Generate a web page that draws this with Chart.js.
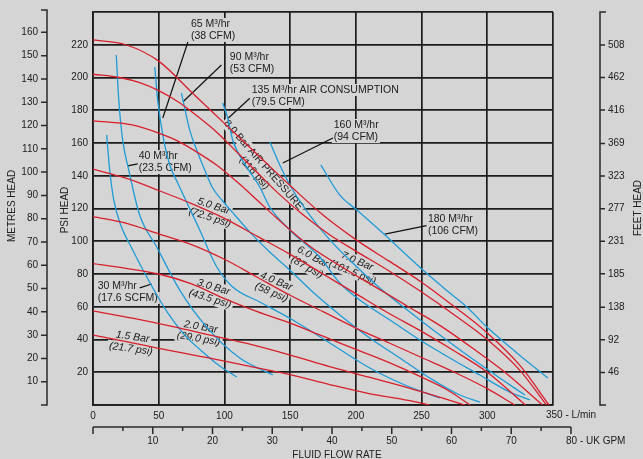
<!DOCTYPE html>
<html>
<head>
<meta charset="utf-8">
<script src="https://cdn.jsdelivr.net/npm/chart.js@4.4.1/dist/chart.umd.min.js"></script>
<style>
    html, body { margin: 0; padding: 0; background: #d5d5d5; }
    #wrap { width: 643px; height: 459px; }
</style>
</head>
<body>
<div id="wrap"><canvas id="pumpChart" width="643" height="459"></canvas></div>
<script>
// axis ticks
const flowTicks = [0, 50, 100, 150, 200, 250, 300, 350];
const psiTicks = [0, 20, 40, 60, 80, 100, 120, 140, 160, 180, 200, 220, 240];
const metreTicks = [10, 20, 30, 40, 50, 60, 70, 80, 90, 100, 110, 120, 130, 140, 150, 160];
const feetTicks = [46, 92, 138, 185, 231, 277, 323, 369, 416, 462, 508];
const gpmTicks = [0, 5, 10, 15, 20, 25, 30, 35, 40, 45, 50, 55, 60, 65, 70, 75, 80];

// air pressure curves (L/min, psi)
const bar15Flow = [0, 30, 60, 90, 120, 150, 180, 210, 240, 256];
const bar15Psi = [42.7, 38, 33, 28.5, 23.4, 18.5, 12.5, 7, 2.8, 0];
const bar20Flow = [0, 30, 60, 90, 120, 150, 180, 210, 240, 265, 283];
const bar20Psi = [57.5, 53, 48, 42.5, 37, 30.5, 23.4, 17, 10.5, 4.5, 0];
const bar30Flow = [0, 25, 50, 75, 100, 125, 150, 175, 200, 225, 250, 270, 287];
const bar30Psi = [86.3, 83.5, 80, 74, 65, 57, 50, 42, 34, 26, 17, 9, 0];
const bar40Flow = [0, 25, 50, 75, 100, 125, 150, 175, 200, 225, 250, 275, 300, 321];
const bar40Psi = [115, 111, 104.5, 98, 89, 78, 67, 57, 47, 38, 29, 20, 10, 0];
const bar50Flow = [0, 25, 50, 75, 100, 125, 150, 175, 200, 225, 250, 275, 300, 329];
const bar50Psi = [144, 138.5, 131, 123, 114, 103, 92, 80, 68, 56, 45, 33, 20, 0];
const bar60Flow = [0, 30, 50, 65, 80, 95, 110, 125, 140, 165, 190, 215, 240, 265, 290, 315, 342];
const bar60Psi = [173.5, 171, 166, 161, 154, 146, 136, 125, 114, 97, 84, 72, 60, 48, 34, 19, 0];
const bar70Flow = [0, 20, 35, 50, 65, 80, 95, 110, 125, 140, 160, 180, 200, 225, 250, 275, 300, 325, 345];
const bar70Psi = [202, 200, 197, 192, 185, 176, 166, 154, 142, 130, 116, 104, 94, 82, 69, 55, 40, 21, 0];
const bar80Flow = [0, 25, 50, 75, 100, 125, 150, 175, 200, 225, 250, 275, 300, 325, 347];
const bar80Psi = [223, 220, 210, 191, 172, 153, 134, 116, 101, 88, 75, 60, 44, 24, 0];

// air consumption curves (L/min, psi)
const air30Flow = [10.4, 12.7, 15.8, 21.1, 30.2, 40.9, 56.9, 69.8, 83.5, 96.5, 109.4];
const air30Psi = [164.9, 143.5, 125.2, 109.9, 94.7, 78.2, 56.2, 42.7, 32.4, 23.8, 17.1];
const air40Flow = [17.7, 19.6, 22.6, 27.2, 35.5, 48.5, 66, 86.5, 111.7, 136.8];
const air40Psi = [213.7, 186.3, 161.8, 143.5, 116, 96.5, 70.2, 47.6, 28.7, 18.3];
const air65Flow = [47, 49.2, 53.1, 58.4, 64.5, 81.2, 94.2, 106.3, 126.9, 152, 180.2, 210.6, 237.3, 263.9];
const air65Psi = [206.4, 186.3, 164.9, 146.6, 135.6, 106.9, 84.3, 72.1, 62.9, 51.9, 37.9, 22.6, 12.2, 4.3];
const air90Flow = [67.3, 73.6, 78.9, 85, 91.1, 98, 107.9, 119.3, 134.5, 149.7, 167.2, 187.8, 210.6, 233.5, 256.3, 279.1, 294.4];
const air90Psi = [190.5, 167.9, 155.7, 143.5, 132.5, 125.2, 116, 105.6, 93.4, 82.4, 69, 55, 40.9, 28.7, 16.5, 6.1, 1.8];
const air135Flow = [98.7, 102.5, 106.3, 117, 126.9, 134.5, 149.7, 172.5, 187.8, 203, 225.9, 248.7, 271.5, 294.3, 317.2, 332.4];
const air135Psi = [184.4, 175.3, 161.8, 145.3, 133.1, 120.9, 106.9, 90.4, 74.5, 64.1, 51.9, 39.7, 28.7, 18.3, 7.9, 3.1];
const air160Flow = [134.5, 142.1, 152, 164.9, 180.2, 199.2, 218.2, 241.1, 263.9, 286.7, 309.5, 328.6];
const air160Psi = [160.8, 146.6, 131.3, 116, 100.8, 85.5, 71.5, 56.8, 42.7, 29.3, 16.5, 6.1];
const air180Flow = [173.3, 187.8, 200.7, 220.5, 251, 271.5, 284.4, 299.7, 322.5, 346.1];
const air180Psi = [146.6, 128.2, 119.1, 105, 82.4, 68.4, 59.8, 47.6, 31.8, 16.5];

// unit conversions for the secondary axes
const PSI_PER_METRE = 1.4223;
const FEET_PER_PSI = 2.31;
const LITRES_PER_UK_GAL = 4.546;

const BG = '#d5d5d5';
const INK = '#202020';
const GRID = '#1c1c1c';
const RED = '#d81f2b';
const BLUE = '#1f9bd6';
const FONT = '"Liberation Sans", Arial, sans-serif';

// curve labels: [lines, flow, psi, angle, italic]
const barLabels = [
    [['1.5 Bar', '(21.7 psi)'], 29.5, 37.9, 8, true],
    [['2.0 Bar', '(29.0 psi)'], 81.2, 44, 10, true],
    [['3.0 Bar', '(43.5 psi)'], 90.4, 68.4, 17, true],
    [['4.0 Bar', '(58 psi)'], 137.6, 72.1, 23, true],
    [['5.0 Bar', '(72.5 psi)'], 90.4, 117.9, 18, true],
    [['6.0 Bar', '(87 psi)'], 165, 87.3, 29, true],
    [['7.0 Bar', '(101.5 psi)'], 199.2, 84.3, 23, true],
    [['8.0 Bar AIR PRESSURE', '(116 psi)'], 126.2, 144.1, 49, false],
];
// air labels: [lines, flow, psi of first line, leader from, leader to]
const airLabels = [
    [['65 M³/hr', '(38 CFM)'], 74.5, 232.7, [72.2, 221.7], [53.1, 175.3]],
    [['90 M³/hr', '(53 CFM)'], 104.1, 212.5, [97.7, 207.6], [68.5, 185.2]],
    [['135 M³/hr AIR CONSUMPTION', '(79.5 CFM)'], 120.8, 192.4, [119.3, 187.3], [102.8, 175.1]],
    [['160 M³/hr', '(94 CFM)'], 183.2, 171, [182.5, 163], [144.4, 147.8]],
    [['180 M³/hr', '(106 CFM)'], 254.8, 113.6, [253.8, 109.5], [222, 104.4]],
    [['40 M³/hr', '(23.5 CFM)'], 34.8, 152, [34, 147.2], [26.4, 146]],
    [['30 M³/hr', '(17.6 SCFM)'], 3.6, 72.7, [35.5, 71.5], [44.7, 73.9]],
];

function zip(xs, ys) {
    return xs.map((x, i) => ({ x: x, y: ys[i] }));
}

function curve(flow, psi, color) {
    return {
        data: zip(flow, psi),
        showLine: true,
        borderColor: color,
        borderWidth: 1.3,
        pointRadius: 0,
        cubicInterpolationMode: 'monotone',
        fill: false,
    };
}

function drawBlock(ctx, lines, x, y, angle, align, knock, italic) {
    const lh = 12;
    ctx.save();
    ctx.translate(x, y);
    ctx.rotate(angle * Math.PI / 180);
    ctx.font = (italic ? 'italic ' : '') + '10.5px ' + FONT;
    ctx.textAlign = align;
    ctx.textBaseline = 'middle';
    const top = align === 'center' ? -lines.length * lh / 2 + lh / 2 : 0;
    lines.forEach((t, i) => {
        const ly = top + i * lh;
        const w = ctx.measureText(t).width;
        if (knock) {
            const lx = align === 'center' ? -w / 2 : 0;
            ctx.fillStyle = BG;
            ctx.fillRect(lx - 2, ly - lh / 2, w + 4, lh);
        } else {
            ctx.fillStyle = INK;
            ctx.fillText(t, 0, ly);
        }
    });
    ctx.restore();
}

const labelPlugin = {
    id: 'labels',
    beforeDatasetsDraw(chart) {
        const ctx = chart.ctx;
        const xs = chart.scales.x, ys = chart.scales.y;
        [true, false].forEach(knock => {
            barLabels.forEach(l => drawBlock(ctx, l[0], xs.getPixelForValue(l[1]), ys.getPixelForValue(l[2]), l[3], 'center', knock, l[4]));
            airLabels.forEach(l => drawBlock(ctx, l[0], xs.getPixelForValue(l[1]), ys.getPixelForValue(l[2]), 0, 'left', knock, false));
        });
        ctx.save();
        ctx.strokeStyle = '#111';
        ctx.lineWidth = 1.2;
        airLabels.forEach(l => {
            ctx.beginPath();
            ctx.moveTo(xs.getPixelForValue(l[3][0]), ys.getPixelForValue(l[3][1]));
            ctx.lineTo(xs.getPixelForValue(l[4][0]), ys.getPixelForValue(l[4][1]));
            ctx.stroke();
        });
        ctx.restore();
    },
    afterDraw(chart) {
        const ctx = chart.ctx;
        const xs = chart.scales.x, ys = chart.scales.y;
        const area = chart.chartArea;
        ctx.save();
        ctx.strokeStyle = '#2a2a2a';
        ctx.fillStyle = INK;
        ctx.lineWidth = 1.5;
        ctx.font = '10px ' + FONT;

        // metres head axis
        const mx = 47;
        ctx.beginPath();
        ctx.moveTo(mx - 6, area.top - 2); ctx.lineTo(mx, area.top - 2);
        ctx.lineTo(mx, area.bottom); ctx.lineTo(mx - 6, area.bottom);
        metreTicks.forEach(m => {
            const y = ys.getPixelForValue(m * PSI_PER_METRE);
            ctx.moveTo(mx - 6, y); ctx.lineTo(mx, y);
        });
        ctx.stroke();
        ctx.textAlign = 'right';
        ctx.textBaseline = 'middle';
        metreTicks.forEach(m => ctx.fillText(m, mx - 9, ys.getPixelForValue(m * PSI_PER_METRE)));

        // feet head axis
        const fx = 600;
        ctx.beginPath();
        ctx.moveTo(fx + 6, area.top); ctx.lineTo(fx, area.top);
        ctx.lineTo(fx, area.bottom); ctx.lineTo(fx + 6, area.bottom);
        feetTicks.forEach(f => {
            const y = ys.getPixelForValue(f / FEET_PER_PSI);
            ctx.moveTo(fx, y); ctx.lineTo(fx + 5, y);
        });
        ctx.stroke();
        ctx.textAlign = 'left';
        feetTicks.forEach(f => ctx.fillText(f, fx + 8, ys.getPixelForValue(f / FEET_PER_PSI)));

        // UK GPM axis
        const gy = 427;
        const gEnd = xs.getPixelForValue(gpmTicks[gpmTicks.length - 1] * LITRES_PER_UK_GAL);
        ctx.beginPath();
        ctx.moveTo(area.left, gy); ctx.lineTo(gEnd, gy);
        gpmTicks.forEach(g => {
            const x = xs.getPixelForValue(g * LITRES_PER_UK_GAL);
            ctx.moveTo(x, gy); ctx.lineTo(x, gy + (g % 10 === 0 ? 7 : 4));
        });
        ctx.stroke();
        ctx.textAlign = 'center';
        gpmTicks.filter(g => g % 10 === 0 && g > 0 && g < 80).forEach(g => {
            ctx.fillText(g, xs.getPixelForValue(g * LITRES_PER_UK_GAL), 441);
        });
        ctx.textAlign = 'left';
        ctx.fillText('80 - UK GPM', gEnd - 5, 441);
        ctx.fillText('350 - L/min', xs.getPixelForValue(350) - 7, 415);

        // axis titles
        ctx.textAlign = 'center';
        ctx.fillText('FLUID FLOW RATE', 337, 455);
        [['METRES HEAD', 12, 206], ['PSI HEAD', 65, 210], ['FEET HEAD', 638, 208]].forEach(t => {
            ctx.save();
            ctx.translate(t[1], t[2]);
            ctx.rotate(-Math.PI / 2);
            ctx.fillText(t[0], 0, 0);
            ctx.restore();
        });
        ctx.restore();
    }
};

const gridStyle = { color: GRID, lineWidth: 1.7, drawTicks: false };
const borderStyle = { color: GRID, width: 1.7 };
const tickFont = { family: FONT, size: 10 };

new Chart(document.getElementById('pumpChart'), {
    type: 'scatter',
    data: {
        datasets: [
            curve(bar15Flow, bar15Psi, RED),
            curve(bar20Flow, bar20Psi, RED),
            curve(bar30Flow, bar30Psi, RED),
            curve(bar40Flow, bar40Psi, RED),
            curve(bar50Flow, bar50Psi, RED),
            curve(bar60Flow, bar60Psi, RED),
            curve(bar70Flow, bar70Psi, RED),
            curve(bar80Flow, bar80Psi, RED),
            curve(air30Flow, air30Psi, BLUE),
            curve(air40Flow, air40Psi, BLUE),
            curve(air65Flow, air65Psi, BLUE),
            curve(air90Flow, air90Psi, BLUE),
            curve(air135Flow, air135Psi, BLUE),
            curve(air160Flow, air160Psi, BLUE),
            curve(air180Flow, air180Psi, BLUE),
        ]
    },
    options: {
        responsive: false,
        animation: false,
        layout: { padding: { top: 12, right: 90, left: 0, bottom: 0 } },
        plugins: { legend: { display: false }, tooltip: { enabled: false } },
        scales: {
            x: {
                type: 'linear', min: 0, max: 350,
                afterBuildTicks: s => { s.ticks = flowTicks.map(v => ({ value: v })); },
                afterFit: s => { s.height = 54; },
                grid: gridStyle, border: borderStyle,
                ticks: { padding: 5, color: INK, font: tickFont, maxRotation: 0, autoSkip: false,
                         callback: v => v === 350 ? '' : v }
            },
            y: {
                type: 'linear', min: 0, max: 240,
                afterBuildTicks: s => { s.ticks = psiTicks.map(v => ({ value: v })); },
                afterFit: s => { s.width = 93; },
                grid: gridStyle, border: borderStyle,
                ticks: { padding: 5, color: INK, font: tickFont, autoSkip: false,
                         callback: v => (v === 0 || v === 240) ? '' : v }
            }
        }
    },
    plugins: [labelPlugin]
});
</script>
</body>
</html>
